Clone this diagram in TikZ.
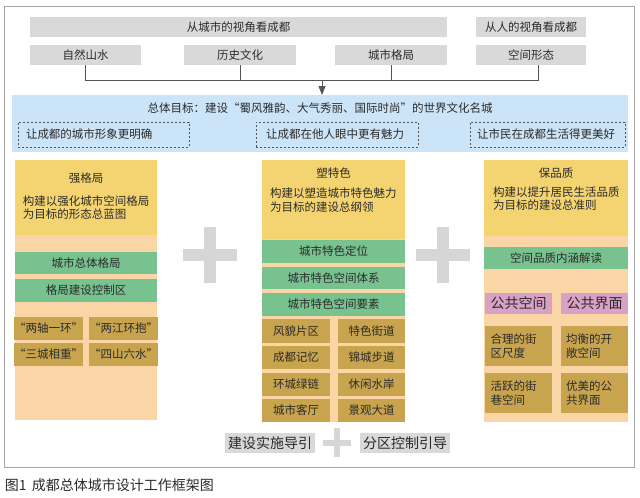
\documentclass[tikz,border=0pt]{standalone}
\usepackage{fontspec}
\newfontfamily\cjk{Noto Sans CJK SC}
\usetikzlibrary{arrows.meta}
\definecolor{txt}{HTML}{2B2B2B}
\definecolor{grayb}{HTML}{D9D9D9}
\definecolor{framec}{HTML}{A6A6A6}
\definecolor{conncol}{HTML}{555555}
\definecolor{blueb}{HTML}{CCE4F7}
\definecolor{yelb}{HTML}{F4D470}
\definecolor{peachb}{HTML}{FAD5A5}
\definecolor{greenb}{HTML}{78C28F}
\definecolor{brownb}{HTML}{C8A44E}
\definecolor{pinkb}{HTML}{D9A1C6}
\definecolor{plusc}{HTML}{D6D6D6}
\newcommand{\mybx}[7]{\node[#2, minimum width={(#5)-(#3)}, minimum height={(#6)-(#4)}] (#1) at ({((#3)+(#5))/2},{((#4)+(#6))/2}) {#7};}
\tikzset{
  base/.style={font=\cjk\fontsize{11.5}{13.5}\selectfont, text=txt, inner sep=0pt, outer sep=0pt},
  gbox/.style={base, fill=grayb},
  bigtxt/.style={font=\cjk\fontsize{14}{16}\selectfont},
  dbox/.style={base, draw=conncol, dash pattern=on 2pt off 2pt, line width=0.7pt, align=left},
  peach/.style={base, fill=peachb},
  yel/.style={base, fill=yelb},
  grn/.style={base, fill=greenb},
  brn/.style={base, fill=brownb},
  pnk/.style={base, fill=pinkb, bigtxt},
  conn/.style={draw=conncol, line width=0.9pt},
  plusbar/.style={draw=plusc, line width=#1},
}
\begin{document}
\begin{tikzpicture}[x=1pt,y=-1pt]
\useasboundingbox (0,0) rectangle (640,498);
\fill[white] (0,0) rectangle (640,498);
\draw[framec, line width=1pt] (4,6) rectangle (634,467);
% top rows
\mybx{city}{gbox}{30}{17}{447}{37}{从城市的视角看成都}
\mybx{people}{gbox}{476}{17}{586}{37}{从人的视角看成都}
\mybx{nat}{gbox}{30}{45}{141}{65}{自然山水}
\mybx{his}{gbox}{184}{45}{296}{65}{历史文化}
\mybx{pat}{gbox}{335}{45}{447}{65}{城市格局}
\mybx{spa}{gbox}{476}{45}{586}{65}{空间形态}
% goal box
\mybx{goal}{base, fill=blueb}{12}{95}{628}{152}{}
\node[base] (goalt) at (320,108) {总体目标：建设“蜀风雅韵、大气秀丽、国际时尚”的世界文化名城};
\mybx{d1}{dbox, text width=155pt}{18}{122}{189}{147}{让成都的城市形象更明确}
\mybx{d2}{dbox, text width=142pt}{256}{122}{418}{147}{让成都在他人眼中更有魅力}
\mybx{d3}{dbox, text width=141pt}{470}{122}{625}{147}{让市民在成都生活得更美好}
% connectors
\coordinate (ja) at (322,80);
\coordinate (jr) at (538,80);
\draw[conn] (nat.south) |- (jr) -- (jr |- spa.south);
\draw[conn] (his.south) -- (his.south |- ja);
\draw[conn] (pat.south) -- (pat.south |- ja);
\draw[conn, -{Triangle[width=7pt,length=9pt]}] (ja) -- (ja |- goal.north);
% left column
\mybx{colL}{peach}{15}{160}{157}{420}{}
\mybx{colLy}{yel}{15}{160}{157}{235}{}
\node[base] (tL) at (86,178) {强格局};
\node[base, align=left, anchor=west] (dL) at (23,207.5) {构建以强化城市空间格局\\为目标的形态总蓝图};
\mybx{gL1}{grn}{15}{252}{157}{274}{城市总体格局}
\mybx{gL2}{grn}{15}{279}{157}{302}{格局建设控制区}
\mybx{bL1}{brn}{15}{317}{82}{340}{“两轴一环”}
\mybx{bL2}{brn}{90}{317}{157}{340}{“两江环抱”}
\mybx{bL3}{brn}{15}{343}{82}{366}{“三城相重”}
\mybx{bL4}{brn}{90}{343}{157}{366}{“四山六水”}
% middle column
\mybx{colM}{peach}{262}{160}{405}{422}{}
\mybx{colMy}{yel}{262}{160}{405}{239}{}
\node[base] (tM) at (333.5,173) {塑特色};
\node[base, align=left, anchor=west] (dM) at (270,200) {构建以塑造城市特色魅力\\为目标的建设总纲领};
\mybx{gM1}{grn}{262}{240}{405}{263}{城市特色定位}
\mybx{gM2}{grn}{262}{267}{405}{289}{城市特色空间体系}
\mybx{gM3}{grn}{262}{293}{405}{316}{城市特色空间要素}
\mybx{bM1}{brn}{262}{319}{330}{343}{风貌片区}
\mybx{bM2}{brn}{338}{319}{405}{343}{特色街道}
\mybx{bM3}{brn}{262}{346}{330}{369}{成都记忆}
\mybx{bM4}{brn}{338}{346}{405}{369}{锦城步道}
\mybx{bM5}{brn}{262}{373}{330}{396}{环城绿链}
\mybx{bM6}{brn}{338}{373}{405}{396}{休闲水岸}
\mybx{bM7}{brn}{262}{399}{330}{422}{城市客厅}
\mybx{bM8}{brn}{338}{399}{405}{422}{景观大道}
% right column
\mybx{colR}{peach}{484}{160}{628}{422}{}
\mybx{colRy}{yel}{484}{160}{628}{236}{}
\node[base] (tR) at (556,173) {保品质};
\node[base, align=left, anchor=west] (dR) at (493,198.5) {构建以提升居民生活品质\\为目标的建设总准则};
\mybx{gR1}{grn}{484}{247}{628}{269}{空间品质内涵解读}
\mybx{pR1}{pnk}{485}{293}{552}{314}{公共空间}
\mybx{pR2}{pnk}{561}{293}{628}{314}{公共界面}
\mybx{bR1}{brn, align=left, text width=56pt}{485}{326}{552}{366}{合理的街\\区尺度}
\mybx{bR2}{brn, align=left, text width=57pt}{561}{326}{628}{366}{均衡的开\\敞空间}
\mybx{bR3}{brn, align=left, text width=56pt}{485}{373}{552}{413}{活跃的街\\巷空间}
\mybx{bR4}{brn, align=left, text width=57pt}{561}{373}{628}{413}{优美的公\\共界面}
% plus signs
\draw[plusbar=12pt] (183,255) -- (237,255) (210,227) -- (210,283);
\draw[plusbar=12pt] (416,255) -- (470,255) (443,227) -- (443,283);
\draw[plusbar=6pt] (323,443) -- (351,443) (337,428) -- (337,457);
% bottom
\mybx{imp}{gbox, bigtxt}{225}{433}{315}{453}{建设实施导引}
\mybx{zon}{gbox, bigtxt}{360}{433}{450}{453}{分区控制引导}
\node[base, font=\cjk\fontsize{14}{16}\selectfont, anchor=west] (cap) at (5,485) {图1\hspace{5pt}成都总体城市设计工作框架图};
\end{tikzpicture}
\end{document}
